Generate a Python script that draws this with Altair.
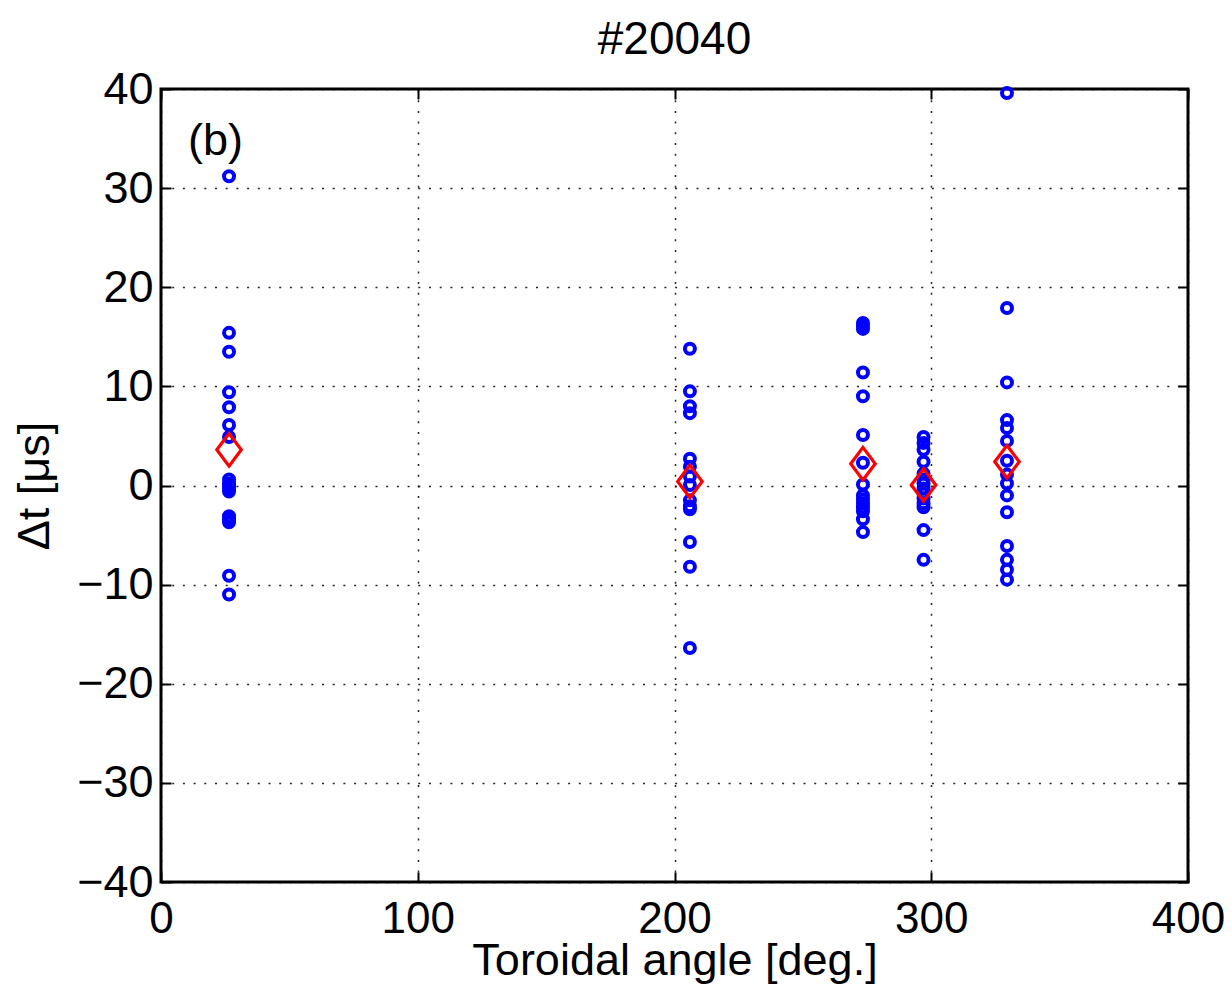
import altair as alt
import pandas as pd

angles = [26.5, 206.0, 273.4, 297.0, 329.5]
dt_26 = [31.2, 15.4, 13.5, 9.4, 7.9, 6.1, 4.9, 0.6, 0.2, 0.0, -0.3, -0.6, -3.1, -3.4, -3.7, -9.1, -11.0]
dt_206 = [13.8, 9.5, 8.0, 7.3, 2.7, 1.9, 0.9, 0.05, -1.5, -2.1, -2.4, -5.7, -8.2, -16.4]
dt_273 = [16.4, 16.1, 15.8, 11.4, 9.0, 5.1, 2.3, 0.1, -1.0, -1.4, -1.8, -2.2, -2.6, -3.4, -4.7]
dt_297 = [4.9, 4.3, 3.6, 2.4, 1.2, 0.6, 0.2, -0.3, -0.8, -1.3, -1.8, -2.2, -4.5, -7.5]
dt_329 = [39.6, 17.9, 10.4, 6.6, 5.8, 4.5, 2.5, 1.1, 0.2, -1.0, -2.7, -6.1, -7.5, -8.5, -9.5]
mean_dt = [3.6, 0.4, 2.2, 0.05, 2.4]

panel_label = ["(b)"]
label_x = [10.5]
label_y = [33.3]

x_ticks = [0, 100, 200, 300, 400]
y_ticks = [-40, -30, -20, -10, 0, 10, 20, 30, 40]

rows = []
for a, vals in zip(angles, [dt_26, dt_206, dt_273, dt_297, dt_329]):
    for v in vals:
        rows.append({"angle": a, "dt": v})
df = pd.DataFrame(rows)
df_mean = pd.DataFrame({"angle": angles, "dt": mean_dt})
df_lab = pd.DataFrame({"angle": label_x, "dt": label_y, "txt": panel_label})

FONT = "Liberation Sans"
FS = 45

xs = alt.Scale(domain=[0, 400], nice=False, zero=False)
ys = alt.Scale(domain=[-40, 40], nice=False, zero=False)

grid_kw = dict(grid=True, gridColor="#000000", gridDash=[2, 8.7], gridWidth=1.5, gridOpacity=0.85)

x_main = alt.Axis(orient="bottom", values=x_ticks, ticks=False, domain=False,
                  labelFont=FONT, labelFontSize=44, labelColor="black", labelPadding=15,
                  title="Toroidal angle [deg.]", titleFont=FONT, titleFontSize=FS,
                  titleFontWeight="normal", titleColor="black", titlePadding=-3,
                  labelFlush=False, labelOverlap=False, **grid_kw)
y_main = alt.Axis(orient="left", values=y_ticks, ticks=False, domain=False,
                  labelFont=FONT, labelFontSize=FS, labelColor="black", labelPadding=8,
                  title="Δt [μs]", titleFont=FONT, titleFontSize=FS,
                  titleFontWeight="normal", titleColor="black", titlePadding=19,
                  labelFlush=False, labelOverlap=False, **grid_kw)

def tick_axis(orient, vals):
    return alt.Axis(orient=orient, values=vals, ticks=True, tickSize=10, tickWidth=2,
                    tickColor="black", offset=-10, labels=False, domain=False,
                    grid=False, title=None)

pts = alt.Chart(df).mark_point(shape="circle", filled=False, color="#0000ff",
                                size=100, strokeWidth=4, opacity=1).encode(
    x=alt.X("angle:Q", scale=xs, axis=x_main),
    y=alt.Y("dt:Q", scale=ys, axis=y_main),
)

means = alt.Chart(df_mean).mark_point(shape="M0,-1.33L1,0L0,1.33L-1,0Z", filled=False,
                                      color="#ff0000", size=600, strokeWidth=3.2, opacity=1).encode(
    x=alt.X("angle:Q", scale=xs, axis=tick_axis("bottom", x_ticks)),
    y=alt.Y("dt:Q", scale=ys, axis=tick_axis("left", y_ticks)),
)

lab = alt.Chart(df_lab).mark_text(font=FONT, fontSize=FS, align="left",
                                  baseline="alphabetic", color="black").encode(
    x=alt.X("angle:Q", scale=xs, axis=tick_axis("top", x_ticks)),
    y=alt.Y("dt:Q", scale=ys, axis=tick_axis("right", y_ticks)),
    text="txt:N",
)

chart = alt.layer(pts, means, lab).resolve_axis(x="independent", y="independent").properties(
    width=1027, height=793,
    autosize=alt.AutoSizeParams(type="none"),
    padding={"left": 153, "top": 81, "right": 36, "bottom": 102},
    title=alt.TitleParams("#20040", font=FONT, fontSize=46, fontWeight="normal",
                          color="black", offset=3, anchor="middle"),
).configure_view(stroke="black", strokeWidth=3)

chart.save("out.html", embed_options={"renderer": "svg", "actions": False})
